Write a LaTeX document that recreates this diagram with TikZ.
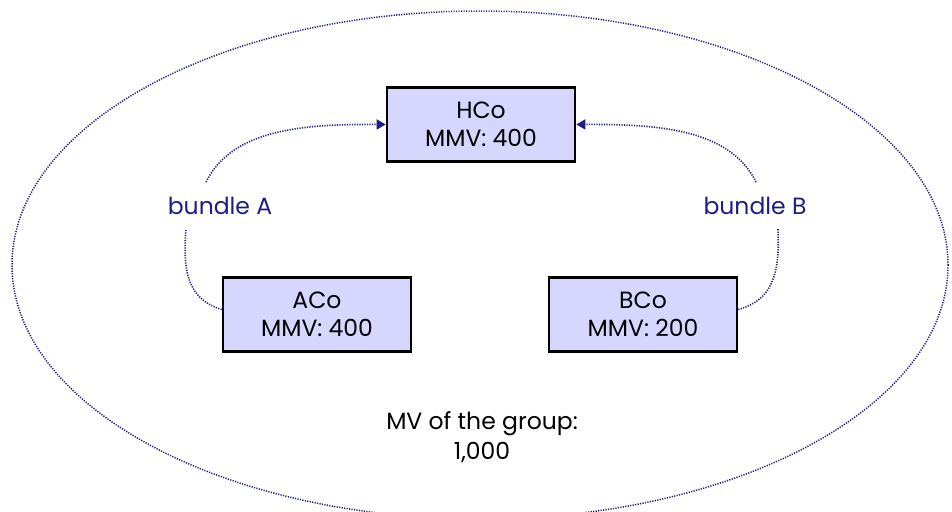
\documentclass[tikz,border=0pt]{standalone}
\usepackage{fontspec}
\setmainfont{Poppins}
\usetikzlibrary{arrows.meta}
\definecolor{navy}{RGB}{30,30,130}
\definecolor{boxfill}{RGB}{214,214,255}
\tikzset{
  company/.style={draw=black, line width=2.6pt, fill=boxfill, minimum width=188pt,
    minimum height=74pt, align=center, font=\fontsize{23.5}{28}\selectfont, text=black},
  bundlelabel/.style={text=navy, font=\fontsize{23.5}{26}\selectfont},
  fineline/.style={draw=navy, line width=1.6pt, dash pattern=on 1.2pt off 1.3pt},
  tiearrow/.style={fineline, -{Triangle[length=9pt,width=10pt]}}
}
\begin{document}
\begin{tikzpicture}[x=1pt,y=-1pt]
  \useasboundingbox (0,0) rectangle (952,511);
  % the group boundary
  \draw[fineline, line width=1.5pt] (480,265) ellipse [x radius=468, y radius=254];
  % companies
  \node[company] (HCo) at (481,124.5) {HCo\\MMV: 400};
  \node[company] (ACo) at (317,314.5) {ACo\\MMV: 400};
  \node[company] (BCo) at (643,314.5) {BCo\\MMV: 200};
  % bundle labels
  \node[bundlelabel] (bA) at (220,206) {bundle A};
  \node[bundlelabel] (bB) at (755,206) {bundle B};
  \node[font=\fontsize{23.5}{30}\selectfont, align=center, text=black] (mv) at (482,437)
    {MV of the group:\\1,000};
  % bundle A
  \coordinate (aLow) at (186,229);
  \coordinate (aHigh) at (206,182);
  \draw[fineline] (ACo.west) ++(0,-5) .. controls (190,300) and (182,275) .. (aLow);
  \draw[tiearrow] (aHigh) .. controls (232,130) and (300,124) .. (HCo.west);
  % bundle B
  \coordinate (bLow) at (778,229);
  \coordinate (bHigh) at (756,182);
  \draw[fineline] (BCo.east) ++(0,-5) .. controls (772,300) and (780,275) .. (bLow);
  \draw[tiearrow] (bHigh) .. controls (730,130) and (662,124) .. (HCo.east);
\end{tikzpicture}
\end{document}
